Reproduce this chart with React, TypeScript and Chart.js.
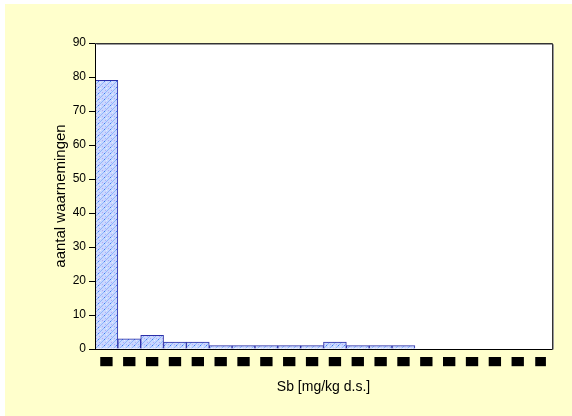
import React, { useEffect, useRef } from "react";
import { Chart, registerables } from "chart.js";

Chart.register(...registerables);

const categories = ["0.5", "1.0", "1.5", "2.0", "2.5", "3.0", "3.5", "4.0", "4.5", "5.0", "5.5", "6.0", "6.5", "7.0", "7.5", "8.0", "8.5", "9.0", "9.5", "10"];
const counts = [79, 3, 4, 2, 2, 1, 1, 1, 1, 1, 2, 1, 1, 1, 0, 0, 0, 0, 0, 0];
const yTicks = [0, 10, 20, 30, 40, 50, 60, 70, 80, 90];

function makePattern(): CanvasPattern | string {
  const c = document.createElement("canvas");
  c.width = 6;
  c.height = 6;
  const g = c.getContext("2d");
  if (!g) return "#C4D4FF";
  g.fillStyle = "#C8D8FF";
  g.fillRect(0, 0, 6, 6);
  g.fillStyle = "#8FB4FA";
  for (let i = 0; i < 6; i++) {
    g.fillRect(5 - i, i, 1, 1);
  }
  g.fillStyle = "#3F7CF2";
  g.fillRect(2, 3, 1, 1);
  g.fillStyle = "#B8A8F6";
  g.fillRect(0, 2, 1, 1);
  g.fillRect(3, 0, 1, 1);
  g.fillStyle = "#E4ECFF";
  g.fillRect(4, 4, 1, 1);
  const p = g.createPattern(c, "repeat");
  return p || "#C4D4FF";
}

const plotFrame = {
  id: "plotFrame",
  beforeDatasetsDraw(chart: any) {
    const { ctx, chartArea } = chart;
    ctx.save();
    ctx.fillStyle = "#FFFFFF";
    ctx.fillRect(chartArea.left, chartArea.top, chartArea.right - chartArea.left, chartArea.bottom - chartArea.top);
    ctx.restore();
  },
  afterDraw(chart: any) {
    const { ctx, chartArea } = chart;
    const l = Math.round(chartArea.left) + 0.5;
    const t = Math.round(chartArea.top) + 0.5;
    const r = Math.round(chartArea.right) + 0.5;
    const b = Math.round(chartArea.bottom) + 0.5;
    ctx.save();
    ctx.strokeStyle = "#9A9A9A";
    ctx.lineWidth = 1;
    ctx.beginPath();
    ctx.moveTo(l + 1, t + 1);
    ctx.lineTo(r + 1, t + 1);
    ctx.lineTo(r + 1, b);
    ctx.stroke();
    ctx.strokeStyle = "#333333";
    ctx.beginPath();
    ctx.moveTo(l, t);
    ctx.lineTo(r, t);
    ctx.lineTo(r, b);
    ctx.stroke();
    ctx.strokeStyle = "#000000";
    ctx.beginPath();
    ctx.moveTo(l, t);
    ctx.lineTo(l, b);
    ctx.lineTo(r, b);
    ctx.stroke();
    ctx.restore();
  },
};

export default function App() {
  const ref = useRef<HTMLCanvasElement | null>(null);

  useEffect(() => {
    if (!ref.current) return;
    const chart = new Chart(ref.current, {
      type: "bar",
      data: {
        labels: categories,
        datasets: [
          {
            data: counts,
            backgroundColor: makePattern() as any,
            borderColor: "#2B2FA8",
            borderWidth: 1,
            borderSkipped: "bottom",
            categoryPercentage: 1,
            barPercentage: 1,
          },
        ],
      },
      plugins: [plotFrame],
      options: {
        responsive: false,
        animation: false,
        events: [],
        layout: { padding: { left: 48, right: 20, top: 43, bottom: 16 } },
        plugins: { legend: { display: false }, tooltip: { enabled: false } },
        scales: {
          x: {
            grid: { display: false, drawTicks: false },
            border: { display: false },
            ticks: {
              color: "#000000",
              font: { family: "Liberation Sans", size: 6 },
              padding: 9,
              maxRotation: 0,
              autoSkip: false,
              showLabelBackdrop: true,
              backdropColor: "#000000",
              backdropPadding: { top: 1, bottom: 1, left: 2, right: 2 },
            } as any,
            title: {
              display: true,
              text: "Sb [mg/kg d.s.]",
              color: "#000000",
              font: { family: "Liberation Sans", size: 14 },
              padding: 4,
            },
            afterFit(scale: any) {
              scale.height = 51;
            },
          },
          y: {
            min: 0,
            max: 90,
            afterBuildTicks(scale: any) {
              scale.ticks = yTicks.map((v) => ({ value: v }));
            },
            grid: { display: true, drawOnChartArea: false, drawTicks: true, tickLength: 6, color: "#000000" },
            border: { display: true, color: "#000000" },
            ticks: {
              color: "#000000",
              font: { family: "Liberation Sans", size: 12 },
              padding: 3,
            },
            title: {
              display: true,
              text: "aantal waarnemingen",
              color: "#000000",
              font: { family: "Liberation Sans", size: 15 },
              padding: 4,
            },
            afterFit(scale: any) {
              scale.width = 47;
            },
          },
        },
      },
    });
    return () => chart.destroy();
  }, []);

  return (
    <div style={{ position: "fixed", left: 0, top: 0, width: 572, height: 416, background: "#FFFFFF" }}>
      <div style={{ position: "absolute", left: 5, top: 4, width: 567, height: 412, background: "#FFFFCC" }} />
      <canvas ref={ref} width={572} height={416} style={{ position: "absolute", left: 0, top: 0, width: 572, height: 416 }} />
    </div>
  );
}
